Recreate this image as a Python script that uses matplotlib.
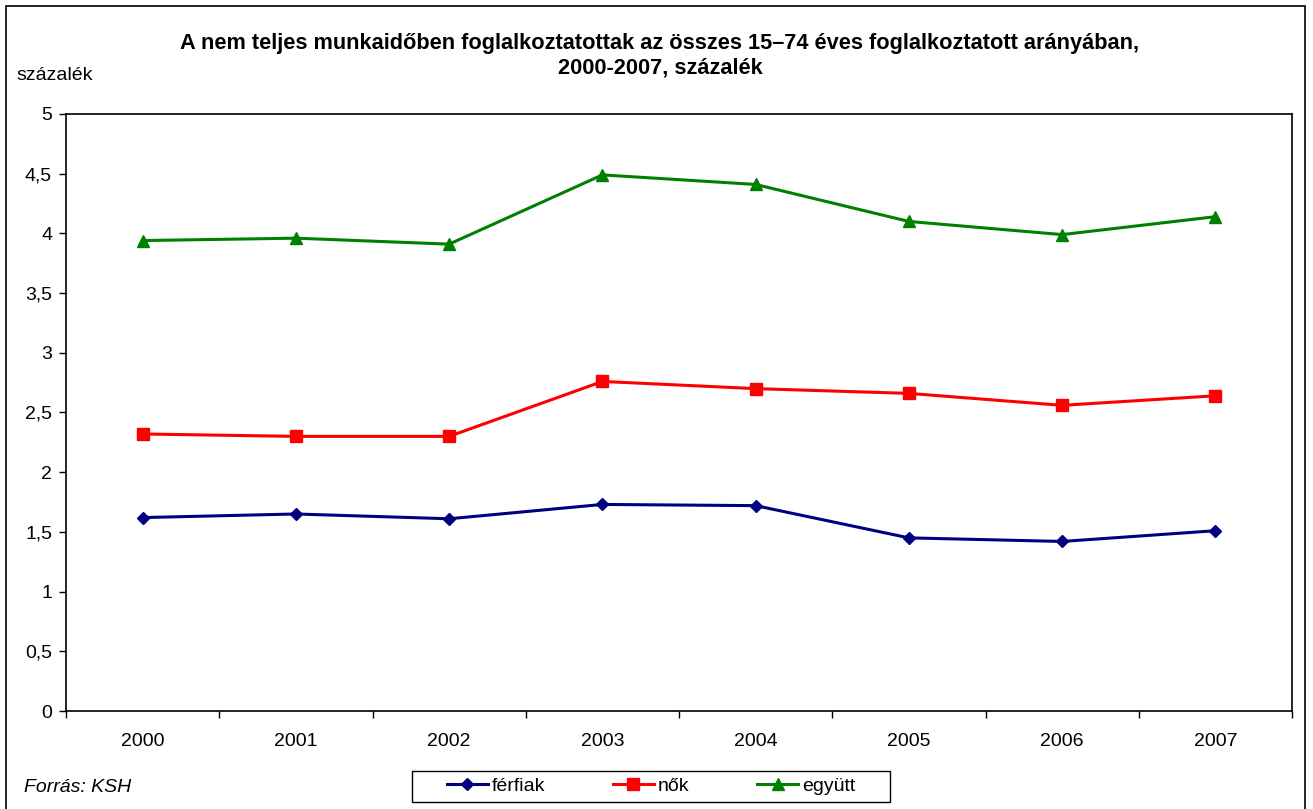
import matplotlib
matplotlib.use("Agg")
import matplotlib.pyplot as plt
from matplotlib.patches import Rectangle

plt.rcParams['font.family'] = ['Liberation Sans', 'DejaVu Sans']

years = ["2000", "2001", "2002", "2003", "2004", "2005", "2006", "2007"]
ferfiak = [1.62, 1.65, 1.61, 1.73, 1.72, 1.45, 1.42, 1.51]
nok = [2.32, 2.30, 2.30, 2.76, 2.70, 2.66, 2.56, 2.64]
egyutt = [3.94, 3.96, 3.91, 4.49, 4.41, 4.10, 3.99, 4.14]
yticks = [0, 0.5, 1, 1.5, 2, 2.5, 3, 3.5, 4, 4.5, 5]
ytick_labels = ["0", "0,5", "1", "1,5", "2", "2,5", "3", "3,5", "4", "4,5", "5"]

W, H = 1313, 809
fig = plt.figure(figsize=(W / 100, H / 100), dpi=100)
ax = fig.add_axes([66 / W, 1 - 711 / H, (1292 - 66) / W, (711 - 114) / H])

x = list(range(len(years)))
l1, = ax.plot(x, ferfiak, color='#000080', lw=2.2, marker='D', ms=6, label='férfiak')
l2, = ax.plot(x, nok, color='#ff0000', lw=2.2, marker='s', ms=8, label='nők')
l3, = ax.plot(x, egyutt, color='#008000', lw=2.2, marker='^', ms=8, label='együtt')

ax.set_xlim(-0.5, len(years) - 0.5)
ax.set_ylim(0, 5)
ax.set_yticks(yticks)
ax.set_yticklabels(ytick_labels, fontsize=14)
ax.set_xticks([i - 0.5 for i in range(len(years) + 1)])
ax.set_xticklabels([])
ax.set_xticks(x, minor=True)
ax.set_xticklabels(years, minor=True, fontsize=14)
ax.tick_params(axis='x', which='major', direction='out', length=5, width=1)
ax.tick_params(axis='x', which='minor', length=0, pad=16)
ax.tick_params(axis='y', direction='out', length=5, width=1, pad=5)
for s in ax.spines.values():
    s.set_linewidth(1.2)
    s.set_color('black')

fig.text(660 / W, 1 - 43 / H, "A nem teljes munkaidőben foglalkoztatottak az összes 15–74 éves foglalkoztatott arányában,",
         ha='center', va='center', fontsize=15.7, fontweight='bold')
fig.text(660 / W, 1 - 68 / H, "2000-2007, százalék", ha='center', va='center', fontsize=15.7, fontweight='bold')
fig.text(16 / W, 1 - 75 / H, "százalék", ha='left', va='center', fontsize=14)
fig.text(24 / W, 1 - 787 / H, "Forrás: KSH", ha='left', va='center', fontsize=14, style='italic')

leg = fig.legend(handles=[l1, l2, l3], loc='center', bbox_to_anchor=(651 / W, 1 - 786 / H),
                 ncol=3, fontsize=14, frameon=False,
                 handlelength=2.1, columnspacing=3.5, borderpad=0.25, handletextpad=0.2,
                 borderaxespad=0)

# legend box drawn separately for wider padding
fig.patches.append(Rectangle((412 / W, 1 - 802 / H), (890 - 412) / W, 31 / H, transform=fig.transFigure,
                             fill=False, edgecolor='black', lw=1.0))
fig.patches.append(Rectangle((6 / W, -0.05), (1305 - 6) / W, 1 - 6 / H + 0.05, transform=fig.transFigure,
                             fill=False, edgecolor='black', lw=1.2))

fig.savefig("out.png", dpi=100)
